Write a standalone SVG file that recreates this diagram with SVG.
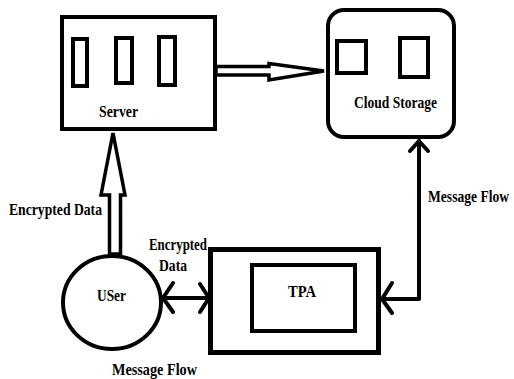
<svg xmlns="http://www.w3.org/2000/svg" width="514" height="379" viewBox="0 0 514 379">
  <style>
    .box { fill: #fff; stroke: #000; stroke-width: 4; }
    .slot { fill: #fff; stroke: #000; stroke-width: 4; }
    .line { fill: none; stroke: #000; stroke-width: 4; stroke-linecap: round; stroke-linejoin: round; }
    .hollow { fill: #fff; stroke: #000; stroke-width: 3.5; stroke-linejoin: miter; }
    .lbl { font-family: "Liberation Serif", "Times New Roman", serif; font-weight: bold; font-size: 17px; fill: #000; }
  </style>
  <rect width="514" height="379" fill="#fff"/>

  <g id="server">
    <rect class="box" x="62" y="17" width="153" height="112"/>
    <rect class="slot" x="73" y="39" width="14" height="47"/>
    <rect class="slot" x="116" y="38" width="16" height="45"/>
    <rect class="slot" x="159" y="37" width="16" height="48"/>
    <text class="lbl" x="99" y="117" textLength="39" lengthAdjust="spacingAndGlyphs">Server</text>
  </g>

  <g id="cloud-storage">
    <rect class="box" x="328" y="10" width="126" height="127" rx="16" ry="16"/>
    <rect class="slot" x="337" y="41" width="29" height="32"/>
    <rect class="slot" x="400" y="38" width="28" height="39"/>
    <text class="lbl" x="354" y="108" textLength="83" lengthAdjust="spacingAndGlyphs">Cloud Storage</text>
  </g>

  <g id="user">
    <ellipse class="box" cx="112" cy="302.5" rx="49" ry="46.5"/>
    <text class="lbl" x="97" y="301" textLength="29" lengthAdjust="spacingAndGlyphs">USer</text>
  </g>

  <g id="tpa">
    <rect class="box" x="210.5" y="249.5" width="168" height="103" style="stroke-width:5"/>
    <rect class="box" x="252" y="265" width="103" height="66"/>
    <text class="lbl" x="288" y="297" textLength="28" lengthAdjust="spacingAndGlyphs">TPA</text>
  </g>

  <g id="connectors">
    <!-- hollow block arrow: server to cloud storage -->
    <polygon class="hollow" points="216,66.5 269,66.5 269,63.5 324,71 269,80 269,75 216,75"/>
    <!-- hollow block arrow: user up to server -->
    <polygon class="hollow" points="109.5,254 109.5,195 101,195 113,133 125,195 120.5,195 120.5,254"/>
    <!-- two-way link: user and TPA -->
    <path class="line" d="M163 298 H209"/>
    <path class="line" d="M173 283 L163 298 L173 312"/>
    <path class="line" d="M200 284 L209 298 L200 312"/>
    <!-- two-way link: TPA and cloud storage -->
    <path class="line" d="M382 299 H419 V141"/>
    <path class="line" d="M392 283 L382 299 L392 313"/>
    <path class="line" d="M410 151 L419 141 L428 151"/>
  </g>

  <g id="labels">
    <text class="lbl" x="9" y="215" textLength="93" lengthAdjust="spacingAndGlyphs">Encrypted Data</text>
    <text class="lbl" x="149" y="250" textLength="58" lengthAdjust="spacingAndGlyphs">Encrypted</text>
    <text class="lbl" x="159" y="271" textLength="28" lengthAdjust="spacingAndGlyphs">Data</text>
    <text class="lbl" transform="translate(428 202) scale(0.8 1)" x="0" y="0">Message Flow</text>
    <text class="lbl" x="112" y="375" textLength="85" lengthAdjust="spacingAndGlyphs">Message Flow</text>
  </g>
</svg>
